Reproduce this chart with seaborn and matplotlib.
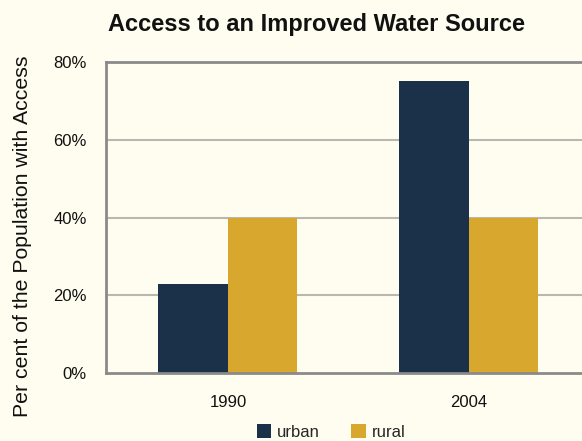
import matplotlib
matplotlib.use("Agg")
import matplotlib.pyplot as plt
import seaborn as sns
import pandas as pd
from matplotlib.patches import Patch
from matplotlib.ticker import FuncFormatter

years = ["1990", "2004"]
urban = [23, 75]
rural = [40, 40]
series_names = ["urban", "rural"]
colors = ["#1b3049", "#d8a72e"]
bg = "#fffdf0"

df = pd.DataFrame({
    "year": years * 2,
    "value": urban + rural,
    "area": ["urban"] * len(years) + ["rural"] * len(years),
})

sns.set_style("white")
plt.rcParams["font.family"] = ["Liberation Sans", "DejaVu Sans"]

fig = plt.figure(figsize=(5.82, 4.41), dpi=100, facecolor=bg)
W, H = 582, 441
ax = fig.add_axes([106 / W, 1 - 373 / H, (582 - 106) / W, (373 - 62) / H])
ax.set_facecolor(bg)

sns.barplot(data=df, x="year", y="value", hue="area", hue_order=series_names,
            palette=colors, width=0.577, ax=ax, legend=False,
            saturation=1, linewidth=0)

ax.set_xlim(-0.506, 1.469)
ax.set_ylim(0, 80)
ax.set_yticks([0, 20, 40, 60, 80])
ax.yaxis.set_major_formatter(FuncFormatter(lambda v, p: f"{int(v)}%"))
for yv in [20, 40, 60]:
    ax.axhline(yv, color="#b8b8b0", lw=1.5, zorder=0)
ax.set_axisbelow(True)
ax.spines["right"].set_visible(False)
for s in ["left", "bottom", "top"]:
    ax.spines[s].set_color("#8a8a8a")
    ax.spines[s].set_linewidth(2)
ax.tick_params(axis="both", length=0, labelsize=12, colors="#111111")
ax.tick_params(axis="y", pad=14)
ax.tick_params(axis="x", pad=16)
ax.set_xlabel("")
ax.set_ylabel("Per cent of the Population with Access", fontsize=15.3,
              color="#111111")
ax.yaxis.set_label_coords((32 - 106) / 476, (373 - 236) / 311)

fig.text(316 / W, 1 - 25 / H, "Access to an Improved Water Source",
         ha="center", va="center", fontsize=17, fontweight="bold", color="#111111")

handles = [Patch(facecolor=c, edgecolor="none", label=n) for c, n in zip(colors, series_names)]
fig.legend(handles=handles, loc="center", bbox_to_anchor=(331 / W, 1 - 432 / H),
           ncol=2, frameon=False, fontsize=12, handlelength=0.85, handleheight=0.85,
           handletextpad=0.35, columnspacing=1.9, borderpad=0)

fig.savefig("out.png", dpi=100, facecolor=bg)
